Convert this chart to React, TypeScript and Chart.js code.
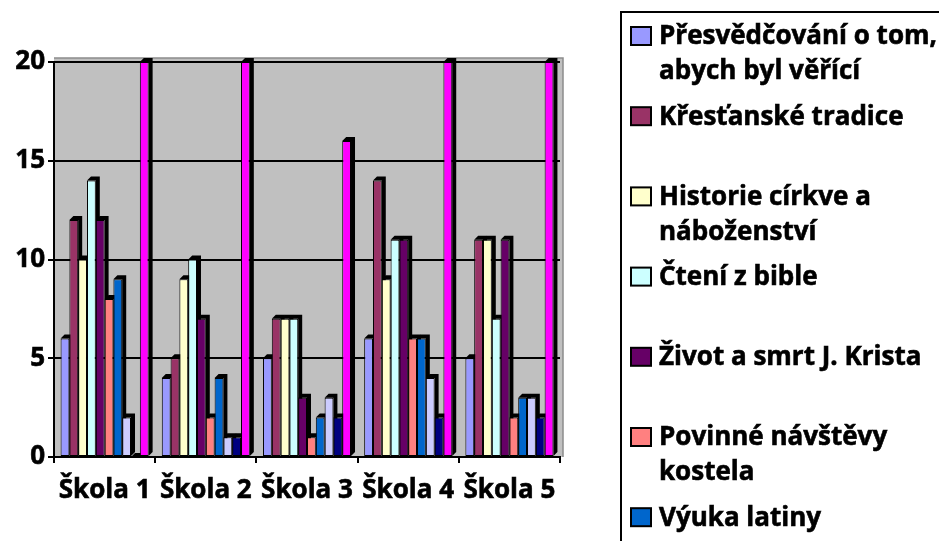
import { useEffect, useRef } from 'react';
import { Chart, registerables } from 'chart.js';

Chart.register(...registerables);

const categories = ['Škola 1', 'Škola 2', 'Škola 3', 'Škola 4', 'Škola 5'];

const seriesNames = [
  'Přesvědčování o tom, abych byl věřící',
  'Křesťanské tradice',
  'Historie církve a náboženství',
  'Čtení z bible',
  'Život a smrt J. Krista',
  'Povinné návštěvy kostela',
  'Výuka latiny',
  'Série 8',
  'Série 9',
  'Série 10',
];

const seriesColors = [
  '#9999FF',
  '#993366',
  '#FFFFCC',
  '#CCFFFF',
  '#660066',
  '#FF8080',
  '#0066CC',
  '#CCCCFF',
  '#000080',
  '#FF00FF',
];

const presvedcovani = [6, 4, 5, 6, 5];
const tradice = [12, 5, 7, 14, 11];
const historie = [10, 9, 7, 9, 11];
const cteni = [14, 10, 7, 11, 7];
const zivot = [12, 7, 3, 11, 11];
const navstevy = [8, 2, 1, 6, 2];
const latina = [9, 4, 2, 6, 3];
const serie8 = [2, 1, 3, 4, 3];
const serie9 = [0, 1, 2, 2, 2];
const serie10 = [20, 20, 16, 20, 20];

const seriesValues = [presvedcovani, tradice, historie, cteni, zivot, navstevy, latina, serie8, serie9, serie10];

const yTicks = [0, 5, 10, 15, 20];

const FONT_FAMILY = '"Open Sans", Lato, sans-serif';
const DEPTH = 4;

const wallPlugin = {
  id: 'wall3d',
  beforeDraw(chart: any) {
    const { ctx, chartArea } = chart;
    const { left, right, top, bottom } = chartArea;
    ctx.save();
    ctx.fillStyle = '#C0C0C0';
    ctx.fillRect(left, top - DEPTH, right - left + 3, bottom - top + DEPTH);
    ctx.strokeStyle = '#8C8C8C';
    ctx.lineWidth = 1.5;
    ctx.beginPath();
    ctx.moveTo(left, top - DEPTH);
    ctx.lineTo(right + 3, top - DEPTH);
    ctx.lineTo(right + 3, bottom);
    ctx.stroke();
    ctx.restore();
  },
  beforeDatasetsDraw(chart: any) {
    const { ctx } = chart;
    ctx.save();
    ctx.fillStyle = '#000000';
    chart.data.datasets.forEach((_: any, i: number) => {
      const meta = chart.getDatasetMeta(i);
      meta.data.forEach((el: any) => {
        const w = el.width;
        const l = el.x - w / 2;
        const r = el.x + w / 2;
        const t = el.y;
        const b = el.base;
        ctx.beginPath();
        ctx.moveTo(r, b);
        ctx.lineTo(r + DEPTH, b - DEPTH);
        ctx.lineTo(r + DEPTH, t - DEPTH);
        ctx.lineTo(l + DEPTH, t - DEPTH);
        ctx.lineTo(l, t);
        ctx.lineTo(r, t);
        ctx.closePath();
        ctx.fill();
      });
    });
    ctx.restore();
  },
};

const legendPlugin = {
  id: 'excelLegend',
  afterDraw(chart: any) {
    const { ctx } = chart;
    ctx.save();
    ctx.strokeStyle = '#000000';
    ctx.lineWidth = 2;
    ctx.strokeRect(621, 12, 360, 620);
    ctx.font = `bold 26px ${FONT_FAMILY}`;
    ctx.textBaseline = 'middle';
    ctx.textAlign = 'left';
    const maxWidth = 292;
    chart.data.datasets.forEach((ds: any, i: number) => {
      const swTop = 27 + i * 80.2;
      ctx.fillStyle = ds.backgroundColor;
      ctx.fillRect(631, swTop, 20, 18);
      ctx.lineWidth = 2;
      ctx.strokeStyle = '#000000';
      ctx.strokeRect(631, swTop, 20, 18);
      const words = String(ds.label).split(' ');
      const lines: string[] = [];
      let cur = '';
      words.forEach((w) => {
        const test = cur ? cur + ' ' + w : w;
        if (cur && ctx.measureText(test).width > maxWidth) {
          lines.push(cur);
          cur = w;
        } else {
          cur = test;
        }
      });
      if (cur) lines.push(cur);
      ctx.fillStyle = '#000000';
      ctx.strokeStyle = '#000000';
      ctx.lineWidth = 0.6;
      lines.forEach((line, k) => {
        const ty = swTop + 10 + k * 35;
        ctx.fillText(line, 659, ty);
        ctx.strokeText(line, 659, ty);
      });
    });
    ctx.restore();
  },
};

export default function App() {
  const canvasRef = useRef<HTMLCanvasElement | null>(null);

  useEffect(() => {
    const canvas = canvasRef.current;
    if (!canvas) return;
    const chart = new Chart(canvas, {
      type: 'bar',
      data: {
        labels: categories,
        datasets: seriesNames.map((name, i) => ({
          label: name,
          data: seriesValues[i],
          backgroundColor: seriesColors[i],
          borderColor: '#000000',
          borderWidth: 1,
          borderSkipped: false,
          categoryPercentage: 0.87,
          barPercentage: 1.0,
        })),
      },
      options: {
        responsive: false,
        animation: false,
        events: [],
        layout: { padding: { left: 0, top: 62, right: 379, bottom: 0 } },
        plugins: {
          legend: { display: false },
          tooltip: { enabled: false },
          title: { display: false },
        },
        scales: {
          x: {
            offset: true,
            grid: {
              offset: true,
              drawOnChartArea: false,
              drawTicks: true,
              tickLength: 6,
              color: '#000000',
              lineWidth: 2,
            },
            border: { display: true, color: '#000000', width: 2 },
            ticks: {
              color: '#000000',
              textStrokeColor: '#000000',
              textStrokeWidth: 0.6,
              padding: 12,
              maxRotation: 0,
              autoSkip: false,
              font: { family: FONT_FAMILY, size: 26, weight: 'bold' },
            },
            afterFit(scale: any) {
              scale.height = 84;
            },
          },
          y: {
            min: 0,
            max: 20,
            afterBuildTicks(scale: any) {
              scale.ticks = yTicks.map((v) => ({ value: v }));
            },
            grid: {
              color: '#000000',
              lineWidth: 2,
              tickLength: 6,
              drawTicks: true,
            },
            border: { display: true, color: '#000000', width: 2 },
            ticks: {
              color: '#000000',
              textStrokeColor: '#000000',
              textStrokeWidth: 0.6,
              padding: 3,
              font: { family: FONT_FAMILY, size: 26, weight: 'bold' },
            },
            afterFit(scale: any) {
              scale.width = 54;
            },
          },
        },
      },
      plugins: [wallPlugin, legendPlugin],
    });
    return () => chart.destroy();
  }, []);

  return (
    <div style={{ position: 'fixed', left: 0, top: 0, width: 939, height: 541, background: '#FFFFFF' }}>
      <canvas ref={canvasRef} width={939} height={541} style={{ display: 'block' }} />
    </div>
  );
}
